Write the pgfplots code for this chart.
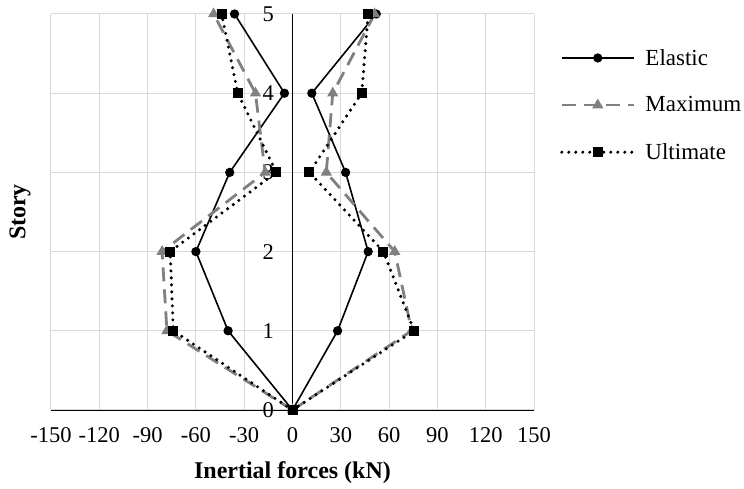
\documentclass[border=0pt]{standalone}
\usepackage{fontspec}
\setmainfont{Liberation Serif}
\usepackage{pgfplots}
\pgfplotsset{compat=1.18}
\definecolor{gridgray}{RGB}{217,217,217}
\definecolor{maxgray}{RGB}{128,128,128}

\pgfplotsset{
  elastic/.style={black, line width=1.6pt, mark=*, mark size=3.8pt},
  maximum/.style={maxgray, line width=2.8pt, dash pattern=on 14pt off 8pt,
    mark=triangle*, mark size=5.5pt, mark options={solid, line width=1pt}},
  ultimate/.style={black, line width=3.4pt, dash pattern=on 0pt off 7pt, line cap=round,
    mark=square*, mark size=4.5pt, mark options={solid, line width=1pt}},
}

\begin{document}
\begin{tikzpicture}
\path[use as bounding box] (-51pt,-79pt) rectangle (693pt,410pt);
\begin{axis}[
  at={(0,0)}, anchor=south west,
  scale only axis, width=483pt, height=396pt,
  xmin=-150, xmax=150, ymin=0, ymax=5,
  xtick={-150,-120,...,150}, ytick={0,1,2,3,4,5},
  axis x line=bottom, axis y line=center,
  axis line style={-, black, line width=0.8pt},
  hide obscured x ticks=false, hide obscured y ticks=false,
  major tick length=0pt,
  grid=major, major grid style={gridgray, line width=1pt},
  tick label style={font=\fontsize{22.5}{26}\selectfont},
  /pgf/number format/assume math mode=true,
  xticklabel style={yshift=-14pt},
  yticklabel style={xshift=-15pt},
  xlabel={Inertial forces (kN)}, ylabel={Story},
  every axis x label/.style={at={(axis description cs:0.5,0)}, anchor=center,
    yshift=-63pt, font=\fontsize{24}{28}\selectfont\bfseries},
  every axis y label/.style={at={(axis description cs:-0.064,0.5)}, anchor=center,
    rotate=90, font=\fontsize{24}{28}\selectfont\bfseries},
  legend image code/.code={\draw[mark repeat=2, mark phase=2, #1]
    plot coordinates {(0pt,0pt) (36pt,0pt) (72pt,0pt)};},
  legend cell align=left,
  legend style={draw=none, fill=none, at={(axis description cs:1.054,0.77)},
    anchor=west, inner sep=0pt, outer sep=0pt, row sep=30pt, column sep=10pt,
    font=\fontsize{23}{27}\selectfont, nodes={inner sep=0pt}},
]
\addplot[elastic] coordinates {(0,0) (-40,1) (-60,2) (-39,3) (-5,4) (-36,5)};
\addlegendentry{Elastic}
\addplot[elastic, forget plot] coordinates {(0,0) (28,1) (47,2) (33,3) (12,4) (52,5)};

\addplot[maximum] coordinates {(0,0) (-78,1) (-81,2) (-17,3) (-23,4) (-49,5)};
\addlegendentry{Maximum}
\addplot[maximum, forget plot] coordinates {(0,0) (74,1) (63.5,2) (21,3) (25,4) (51,5)};

\addplot[ultimate] coordinates {(0,0) (-74,1) (-76,2) (-10,3) (-34,4) (-44,5)};
\addlegendentry{Ultimate}
\addplot[ultimate, forget plot] coordinates {(0,0) (75.5,1) (56.5,2) (10.5,3) (43,4) (47,5)};
\end{axis}
\end{tikzpicture}
\end{document}
